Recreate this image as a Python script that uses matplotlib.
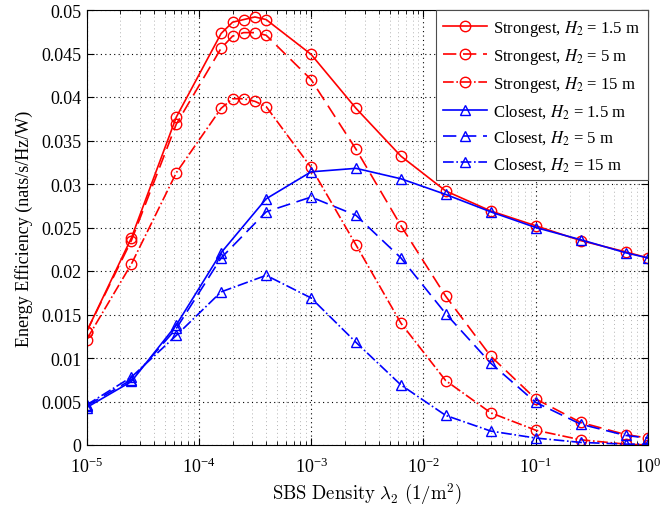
import matplotlib
matplotlib.use('Agg')
import matplotlib.pyplot as plt
from matplotlib.ticker import LogLocator, MultipleLocator, FormatStrFormatter, NullFormatter

plt.rcParams['font.family'] = ['Liberation Serif', 'DejaVu Serif']
plt.rcParams['mathtext.fontset'] = 'stix'

# SBS density points
lam_red = [1e-5, 2.51e-5, 6.31e-5, 1.58e-4, 2e-4, 2.51e-4, 3.16e-4, 3.98e-4,
           1e-3, 2.51e-3, 6.31e-3, 1.58e-2, 3.98e-2, 0.1, 0.251, 0.631, 1.0]
lam_blue = [1e-5, 2.51e-5, 6.31e-5, 1.58e-4, 3.98e-4,
            1e-3, 2.51e-3, 6.31e-3, 1.58e-2, 3.98e-2, 0.1, 0.251, 0.631, 1.0]

# Strongest association
ee_str_15 = [0.0130, 0.0238, 0.0377, 0.0473, 0.0486, 0.0489, 0.0492, 0.0489,
             0.0449, 0.0387, 0.0332, 0.0292, 0.0269, 0.0252, 0.0235, 0.0222, 0.0215]
ee_str_5 = [0.0130, 0.0235, 0.0369, 0.0456, 0.0470, 0.0474, 0.0474, 0.0471,
            0.0420, 0.0340, 0.0252, 0.0171, 0.0102, 0.0053, 0.0026, 0.0012, 0.0008]
ee_str_15m = [0.0121, 0.0208, 0.0313, 0.0387, 0.0398, 0.0398, 0.0395, 0.0389,
              0.0319, 0.0230, 0.0140, 0.0074, 0.0037, 0.0017, 0.0006, 0.0001, 0.0000]

# Closest association
ee_clo_15 = [0.0043, 0.0073, 0.0138, 0.0221, 0.0283,
             0.0314, 0.0318, 0.0306, 0.0288, 0.0268, 0.0250, 0.0236, 0.0221, 0.0215]
ee_clo_5 = [0.0045, 0.0075, 0.0134, 0.0215, 0.0268,
            0.0285, 0.0264, 0.0215, 0.0151, 0.0094, 0.0049, 0.0024, 0.0011, 0.0008]
ee_clo_15m = [0.0046, 0.0078, 0.0126, 0.0176, 0.0195,
              0.0169, 0.0118, 0.0069, 0.0034, 0.0016, 0.0008, 0.0003, 0.0001, 0.0001]

fig = plt.figure(figsize=(6.62, 5.06), dpi=100)
ax = fig.add_axes([86.5/662, 60/506, 561.5/662, 435/506])

lw = 1.2
ms = 7.5
ax.plot(lam_red, ee_str_15, '-', color='r', marker='o', mfc='none', ms=ms, lw=lw,
        label=r'Strongest, $H_2$ = 1.5 m')
ax.plot(lam_red, ee_str_5, '--', color='r', marker='o', mfc='none', ms=ms, lw=lw,
        dashes=(8, 4), label=r'Strongest, $H_2$ = 5 m')
ax.plot(lam_red, ee_str_15m, '-.', color='r', marker='o', mfc='none', ms=ms, lw=lw,
        label=r'Strongest, $H_2$ = 15 m')
ax.plot(lam_blue, ee_clo_15, '-', color='b', marker='^', mfc='none', ms=ms, lw=lw,
        label=r'Closest, $H_2$ = 1.5 m')
ax.plot(lam_blue, ee_clo_5, '--', color='b', marker='^', mfc='none', ms=ms, lw=lw,
        dashes=(8, 4), label=r'Closest, $H_2$ = 5 m')
ax.plot(lam_blue, ee_clo_15m, '-.', color='b', marker='^', mfc='none', ms=ms, lw=lw,
        label=r'Closest, $H_2$ = 15 m')

ax.set_xscale('log')
ax.set_xlim(1e-5, 1)
ax.set_ylim(0, 0.05)
ax.yaxis.set_major_locator(MultipleLocator(0.005))
ax.yaxis.set_major_formatter(FormatStrFormatter('%g'))
ax.xaxis.set_major_locator(LogLocator(base=10, numticks=10))
ax.xaxis.set_minor_locator(LogLocator(base=10, subs=range(2, 10), numticks=20))
ax.xaxis.set_minor_formatter(NullFormatter())

ax.grid(True, which='major', linestyle=(0, (1, 3)), color='k', linewidth=0.8)
ax.grid(True, which='minor', axis='x', linestyle=(0, (1, 3)), color='0.7', linewidth=0.7)
ax.tick_params(which='both', direction='in', top=True, right=True, labelsize=13)
ax.tick_params(axis='x', which='major', pad=8)
ax.tick_params(which='major', length=5)
ax.tick_params(which='minor', length=3)
for s in ax.spines.values():
    s.set_linewidth(0.8)

ax.set_xlabel(r'$\mathrm{SBS\ Density}\ \lambda_2\ (1/\mathrm{m}^2)$', fontsize=13.5,
              math_fontfamily='cm', labelpad=4)
ax.set_ylabel('Energy Efficiency (nats/s/Hz/W)', fontsize=13, labelpad=6)

leg = ax.legend(loc='upper right', fontsize=12, fancybox=False, framealpha=1,
                edgecolor='0.3', handlelength=2.6, handletextpad=0.4,
                borderaxespad=0, labelspacing=0.5, borderpad=0.45)
leg.get_frame().set_linewidth(0.8)

fig.savefig('out.png', dpi=100)
